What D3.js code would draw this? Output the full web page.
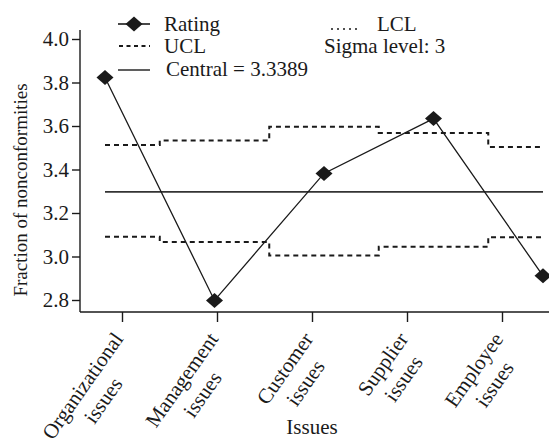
<!DOCTYPE html>
<html>
<head>
<meta charset="utf-8">
<script src="https://cdn.jsdelivr.net/npm/d3@7"></script>
<style>
  html, body { margin: 0; padding: 0; background: #fff; }
  svg, svg text { font-family: "Liberation Serif", "Times New Roman", serif; }
</style>
</head>
<body>
<svg id="chart" width="549" height="438"></svg>
<script>
// ---- data ----
const categories = ["Organizational issues", "Management issues", "Customer issues", "Supplier issues", "Employee issues"];
const rating = [3.823, 2.798, 3.382, 3.634, 2.911];
const ucl = [3.513, 3.533, 3.596, 3.568, 3.504];
const lcl = [3.091, 3.067, 3.005, 3.045, 3.089];
const central = 3.297;
const centralLabel = "Central = 3.3389";
const sigmaLabel = "Sigma level: 3";
const yTicks = [2.8, 3.0, 3.2, 3.4, 3.6, 3.8, 4.0];

// ---- layout ----
const svg = d3.select("#chart");
const axisX0 = 80, axisX1 = 549, axisYTop = 30, axisYBottom = 312;

const y = d3.scaleLinear()
  .domain([2.8, 4.0])
  .range([300, 39]);
const yTop = y.invert(axisYTop), yBottom = y.invert(axisYBottom);
y.domain([yBottom, yTop]).range([axisYBottom, axisYTop]);

const xPts = d3.scalePoint().domain(categories).range([105, 543]);
const xTicks = d3.scalePoint().domain(categories).range([122, 502]);

const ink = "#1a1a1a";
const fs = { tick: "21px", legend: "21px", xlab: "21px", ytitle: "19px", xtitle: "21px" };

// y axis
const yAxis = d3.axisLeft(y).tickValues(yTicks).tickFormat(d3.format(".1f")).tickSize(8).tickPadding(3);
const gy = svg.append("g").attr("transform", `translate(${axisX0},0)`).call(yAxis);
gy.attr("font-family", null);
gy.select(".domain").attr("stroke", ink).attr("stroke-width", 1.4)
  .attr("d", `M0,${axisYTop}V${axisYBottom}`);
gy.selectAll(".tick line").attr("stroke", ink).attr("stroke-width", 1.4);
gy.selectAll(".tick text").attr("fill", ink).style("font-size", fs.tick);

// x axis
const xAxis = d3.axisBottom(xTicks).tickSize(10).tickFormat("");
const gx = svg.append("g").attr("transform", `translate(0,${axisYBottom})`).call(xAxis);
gx.attr("font-family", null);
gx.select(".domain").attr("stroke", ink).attr("stroke-width", 1.4)
  .attr("d", `M${axisX0},0H${axisX1}`);
gx.selectAll(".tick line").attr("stroke", ink).attr("stroke-width", 1.4);

// x tick labels (two lines, rotated; first line ends near the tick)
const ang = 55 * Math.PI / 180;
const labelG = svg.append("g");
categories.forEach(c => {
  const parts = c.split(" ");
  const t = labelG.append("text")
    .attr("text-anchor", "middle")
    .attr("fill", ink)
    .style("font-size", fs.xlab);
  const t1 = t.append("tspan").attr("x", 0).attr("dy", 0).text(parts[0]);
  t.append("tspan").attr("x", 0).attr("dy", "1.2em").text(parts[1]);
  const w = t1.node().getComputedTextLength();
  const ex = xTicks(c) + 2, ey = 339;
  const cx = ex - (w / 2) * Math.cos(ang);
  const cy = ey + (w / 2) * Math.sin(ang);
  t.attr("transform", `translate(${cx},${cy}) rotate(-55)`);
});

// axis titles
svg.append("text")
  .attr("transform", `translate(27,190) rotate(-90)`)
  .attr("text-anchor", "middle").attr("fill", ink)
  .style("font-size", fs.ytitle)
  .text("Fraction of nonconformities");
svg.append("text")
  .attr("x", xTicks(categories[2])).attr("y", 434)
  .attr("text-anchor", "middle").attr("fill", ink)
  .style("font-size", fs.xtitle)
  .text("Issues");

// control limits (step lines)
const step = d3.line().x((d, i) => xPts(categories[i])).y(d => y(d)).curve(d3.curveStep);
svg.append("path").attr("d", step(ucl)).attr("fill", "none")
  .attr("stroke", ink).attr("stroke-width", 2).attr("stroke-dasharray", "5,4");
svg.append("path").attr("d", step(lcl)).attr("fill", "none")
  .attr("stroke", ink).attr("stroke-width", 2).attr("stroke-dasharray", "5,4");

// central line
svg.append("line")
  .attr("x1", xPts(categories[0])).attr("x2", xPts(categories[categories.length - 1]))
  .attr("y1", y(central)).attr("y2", y(central))
  .attr("stroke", "#333").attr("stroke-width", 1.6);

// rating line + diamonds
const line = d3.line().x((d, i) => xPts(categories[i])).y(d => y(d));
svg.append("path").attr("d", line(rating)).attr("fill", "none")
  .attr("stroke", ink).attr("stroke-width", 1.3);
const diamond = (cx, cy) => `M${cx},${cy - 7.5}L${cx + 8.5},${cy}L${cx},${cy + 7.5}L${cx - 8.5},${cy}Z`;
svg.selectAll(".pt").data(rating).enter().append("path")
  .attr("d", (d, i) => diamond(xPts(categories[i]), y(d)))
  .attr("fill", ink);

// legend
const lg = svg.append("g");
lg.append("line").attr("x1", 118).attr("x2", 150).attr("y1", 24).attr("y2", 24)
  .attr("stroke", ink).attr("stroke-width", 1.6);
lg.append("path").attr("d", diamond(134, 24)).attr("fill", ink);
lg.append("text").attr("x", 164).attr("y", 31).style("font-size", fs.legend).attr("fill", ink).text("Rating");

lg.append("line").attr("x1", 119).attr("x2", 150).attr("y1", 46).attr("y2", 46)
  .attr("stroke", ink).attr("stroke-width", 2).attr("stroke-dasharray", "4,3.5");
lg.append("text").attr("x", 164).attr("y", 53).style("font-size", fs.legend).attr("fill", ink).text("UCL");

lg.append("line").attr("x1", 118).attr("x2", 150).attr("y1", 70).attr("y2", 70)
  .attr("stroke", ink).attr("stroke-width", 1.4);
lg.append("text").attr("x", 166).attr("y", 76).style("font-size", fs.legend).attr("fill", ink).text(centralLabel);

lg.append("line").attr("x1", 331).attr("x2", 361).attr("y1", 29).attr("y2", 29)
  .attr("stroke", ink).attr("stroke-width", 1.6).attr("stroke-dasharray", "2,4");
lg.append("text").attr("x", 377).attr("y", 31).style("font-size", fs.legend).attr("fill", ink).text("LCL");
lg.append("text").attr("x", 324).attr("y", 53).style("font-size", fs.legend).attr("fill", ink).text(sigmaLabel);
</script>
</body>
</html>
